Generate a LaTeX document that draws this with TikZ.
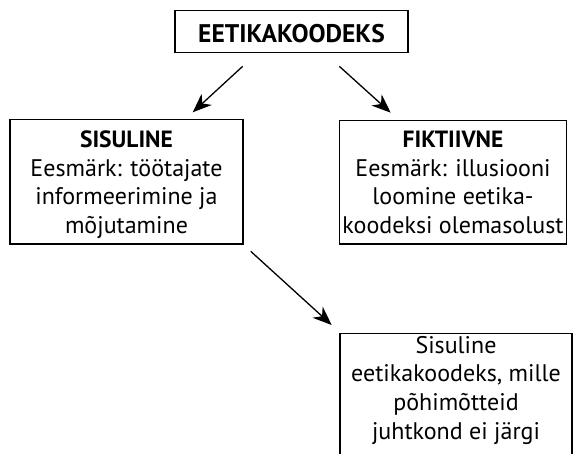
\documentclass[tikz,border=0pt]{standalone}
\usepackage{fontspec}
\setmainfont{PT Sans}
\usetikzlibrary{arrows.meta}

\tikzset{
  box/.style={draw, line width=1.3pt, rectangle, inner sep=0pt, align=center, anchor=north,
              font=\fontsize{24}{28.7}\selectfont},
  titlebox/.style={box, font=\fontsize{25.5}{30}\selectfont\bfseries},
  arr/.style={line width=1.3pt, -{Stealth[length=19pt, width=15pt, inset=6pt]}}
}
\newcommand{\boxhead}[1]{{\fontsize{23.5}{28.7}\selectfont\bfseries #1}}

\begin{document}
\begin{tikzpicture}[x=1pt, y=-1pt]
  \useasboundingbox (0,0) rectangle (573,454);

  % header
  \node[titlebox, minimum width=233pt, text height=31.5pt, text depth=10.3pt] (code) at (291.5,10.2) {EETIKAKOODEKS};

  % the two kinds of codes (text height = top edge to last baseline)
  \node[box, minimum width=233pt, text height=114pt, text depth=10.5pt] (real) at (126.5,119)
    {\boxhead{SISULINE}\\Eesmärk: töötajate\\informeerimine ja\\mõjutamine};
  \node[box, minimum width=227.4pt, text height=113pt, text depth=10.3pt] (fake) at (453,120)
    {\boxhead{FIKTIIVNE}\\Eesmärk: illusiooni\\loomine eetika-\\koodeksi olemasolust};

  % the code that management ignores (runs off the lower edge)
  \node[box, minimum width=232pt, text height=105.5pt, text depth=40pt] (ignored) at (456,333)
    {Sisuline\\eetikakoodeks, mille\\põhimõtteid\\juhtkond ei järgi};

  % connectors
  \draw[arr] ([xshift=-48.8pt, yshift=-13pt]code.south) -- ([xshift=66.2pt, yshift=6.7pt]real.north);
  \draw[arr] ([xshift=47.8pt, yshift=-13pt]code.south) -- ([xshift=-62.3pt, yshift=7.3pt]fake.north);
  \draw[arr] ([xshift=124.2pt, yshift=-6.5pt]real.south) -- ([xshift=-124.3pt, yshift=8pt]ignored.north);
\end{tikzpicture}
\end{document}
